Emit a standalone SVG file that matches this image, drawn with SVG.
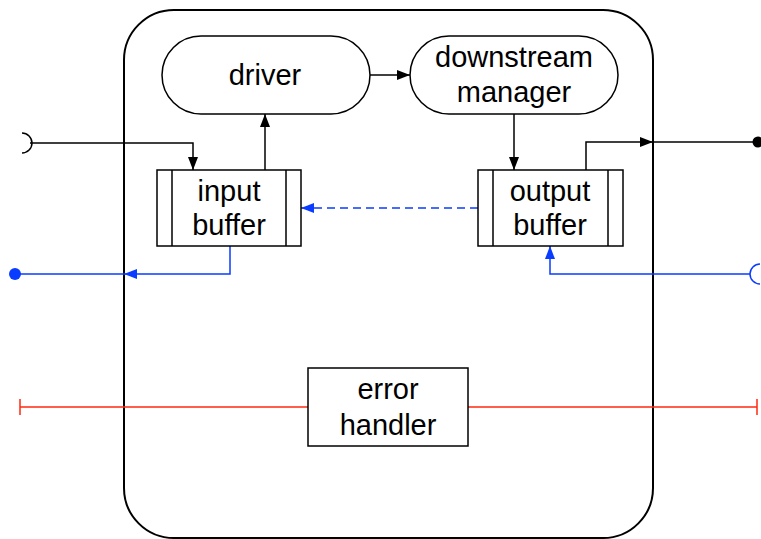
<svg xmlns="http://www.w3.org/2000/svg" width="761" height="539" viewBox="0 0 761 539">
<defs>
<style>
.box{fill:#fff;stroke:#000;stroke-width:1.5}
.lbl{font-family:"Liberation Sans",Arial,sans-serif;font-size:29px;fill:#000;text-anchor:middle}
.k{fill:none;stroke:#000;stroke-width:1.5}
.b{fill:none;stroke:#0a3cff;stroke-width:1.5}
.r{fill:none;stroke:#ff2a10;stroke-width:1.5}
</style>
<marker id="ak" viewBox="0 0 13 10" refX="13" refY="5" markerWidth="13" markerHeight="10" markerUnits="userSpaceOnUse" orient="auto"><path d="M0,0 L13,5 L0,10 Z" fill="#000"/></marker>
<marker id="ab" viewBox="0 0 13 10" refX="13" refY="5" markerWidth="13" markerHeight="10" markerUnits="userSpaceOnUse" orient="auto"><path d="M0,0 L13,5 L0,10 Z" fill="#0a3cff"/></marker>
</defs>
<rect id="container" x="124" y="10" width="529" height="528" rx="50" ry="50" fill="#fff" stroke="#000" stroke-width="2"/>
<g id="connectors">
<path class="k" d="M370,75 H410" marker-end="url(#ak)"/>
<path class="k" d="M265,170 V114" marker-end="url(#ak)"/>
<path class="k" d="M514,114 V170" marker-end="url(#ak)"/>
<path class="b" d="M478,208 H301" stroke-dasharray="8,5" marker-end="url(#ab)"/>
<path class="k" d="M30,143 H193 V170" marker-end="url(#ak)"/>
<path class="k" d="M22,133 A10,10 0 0 1 22,153"/>
<path class="k" d="M586,170 V142 H653" marker-end="url(#ak)"/>
<path class="k" d="M653,142 H757"/>
<circle cx="758" cy="142" r="5.5" fill="#000"/>
<path class="b" d="M230,246 V274 H124" marker-end="url(#ab)"/>
<path class="b" d="M124,274 H15"/>
<circle cx="15" cy="274" r="6" fill="#0a3cff"/>
<path class="b" d="M750,274 H550 V246" marker-end="url(#ab)"/>
<path class="b" d="M760,264 A10,10 0 0 0 760,284"/>
<path class="r" d="M20,407 H308 M468,407 H757 M20,399 V415 M757,399 V415"/>
</g>
<g id="driver"><rect class="box" x="162" y="36" width="208" height="78" rx="39"/><text class="lbl" x="265" y="85">driver</text></g>
<g id="downstream-manager"><rect class="box" x="410" y="36" width="208" height="78" rx="39"/><text class="lbl" x="514" y="67">downstream</text><text class="lbl" x="514" y="102">manager</text></g>
<g id="input-buffer"><rect class="box" x="157" y="170" width="144" height="76"/><path class="k" d="M172,170 V246 M286,170 V246"/><text class="lbl" x="229" y="201">input</text><text class="lbl" x="229" y="235">buffer</text></g>
<g id="output-buffer"><rect class="box" x="478" y="170" width="145" height="76"/><path class="k" d="M493,170 V246 M608,170 V246"/><text class="lbl" x="550" y="201">output</text><text class="lbl" x="550" y="235">buffer</text></g>
<g id="error-handler"><rect class="box" x="308" y="368" width="160" height="78"/><text class="lbl" x="388" y="399">error</text><text class="lbl" x="388" y="435">handler</text></g>
</svg>
